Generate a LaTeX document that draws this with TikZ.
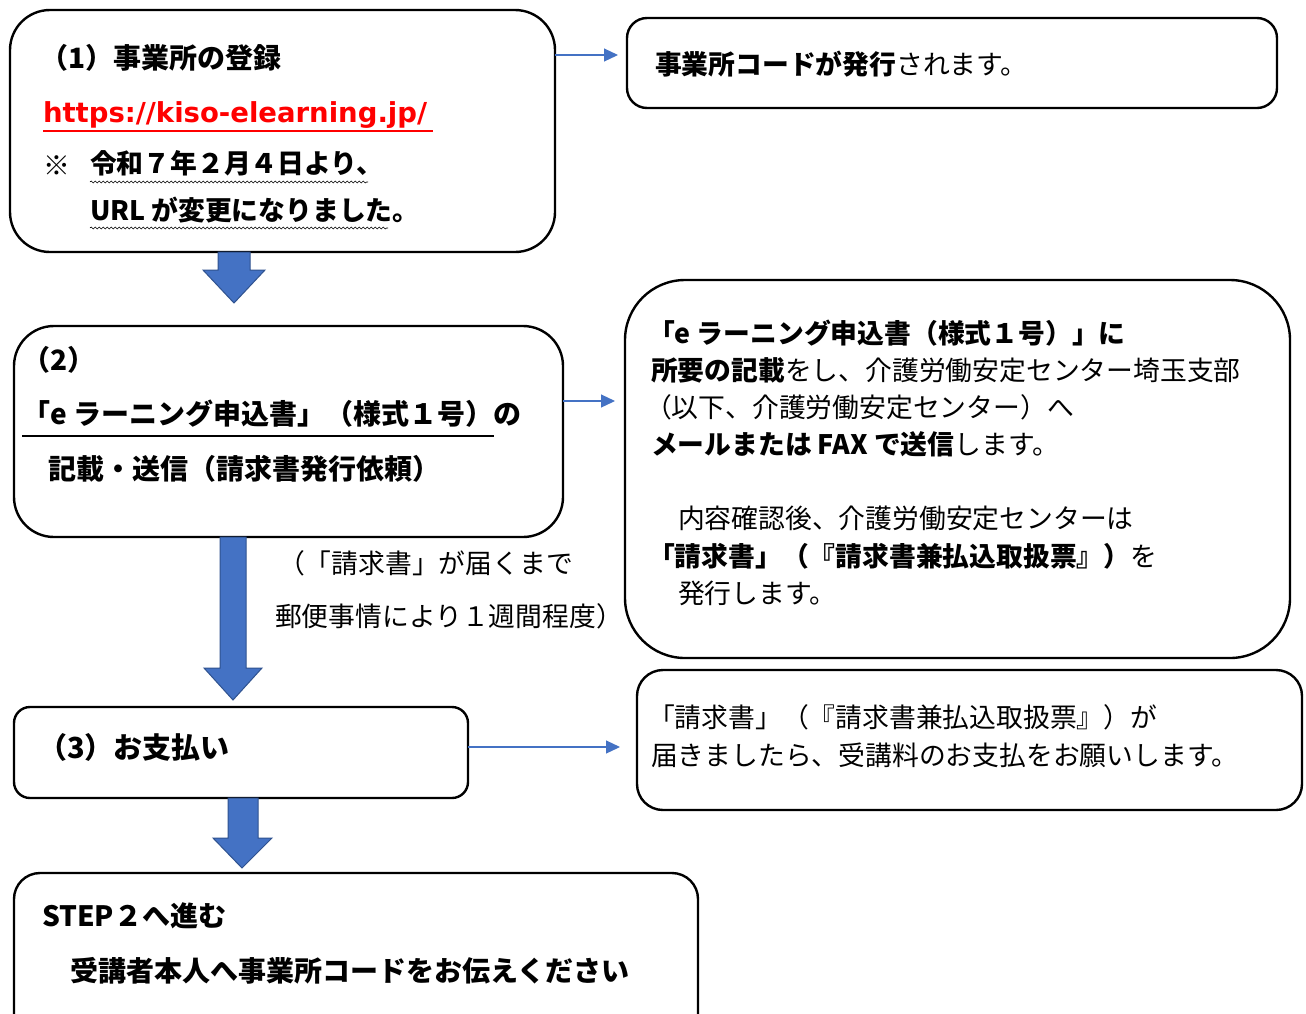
\documentclass[tikz,border=0pt]{standalone}
\usepackage{fontspec}
\setmainfont{Noto Sans CJK JP}
\newfontfamily\urlfont{DejaVu Sans}
\usetikzlibrary{arrows.meta,decorations.pathmorphing}
\definecolor{arrowblue}{HTML}{4472C4}
\definecolor{arrowedge}{HTML}{2F528F}
\definecolor{urlred}{HTML}{FF0000}
\begin{document}
\begin{tikzpicture}[x=1pt,y=-1pt,
  box/.style={draw=black, line width=2.4pt, fill=white, inner sep=0pt, outer sep=0pt},
  txt/.style={anchor=base west, inner sep=0pt, outer sep=0pt, font=\fontsize{26.8}{30}\selectfont},
  btxt/.style={txt, font=\fontsize{26.8}{30}\selectfont\bfseries},
  bigtxt/.style={txt, font=\fontsize{28}{32}\selectfont\bfseries},
  thinarrow/.style={draw=arrowblue, line width=1.2pt, -{Triangle[length=14pt,width=13pt]}},
  blockarrow/.style={fill=arrowblue, draw=arrowedge, line width=1pt},
  wavy/.style={draw=black, line width=0.6pt, decorate, decoration={snake, amplitude=1pt, segment length=4pt}}]
\useasboundingbox (0,0) rectangle (1306,1013);
\clip (0,0) rectangle (1306,1013);
\fill[white] (0,0) rectangle (1306,1013);

% boxes
\node[box, rounded corners=40pt, minimum width=545pt, minimum height=242pt] (b1) at (282.5,131) {};
\node[box, rounded corners=20pt, minimum width=650pt, minimum height=90pt] (r1) at (952,63) {};
\node[box, rounded corners=40pt, minimum width=549pt, minimum height=211pt] (b2) at (288.5,431.5) {};
\node[box, rounded corners=60pt, minimum width=665pt, minimum height=378pt] (r2) at (957.5,469) {};
\node[box, rounded corners=16pt, minimum width=454pt, minimum height=91pt] (b3) at (241,752.5) {};
\node[box, rounded corners=26pt, minimum width=665pt, minimum height=140pt] (r3) at (969.5,740) {};
\node[box, rounded corners=26pt, minimum width=684pt, minimum height=170pt] (b4) at (356,958) {};

% thin connectors
\coordinate (a1e) at (618,55);
\coordinate (a2e) at (615,401);
\coordinate (a3e) at (620,747);
\draw[thinarrow] (b1.east |- a1e) -- (a1e);
\draw[thinarrow] (b2.east |- a2e) -- (a2e);
\draw[thinarrow] (b3.east |- a3e) -- (a3e);

% block arrows
\draw[blockarrow] (218,252) -- (250,252) -- (250,270) -- (265,270) -- (234,303) -- (203,270) -- (218,270) -- cycle;
\draw[blockarrow] (220,537) -- (246,537) -- (246,668) -- (262,668) -- (233,700) -- (204,668) -- (220,668) -- cycle;
\draw[blockarrow] (228,798) -- (258,798) -- (258,838) -- (272,838) -- (242,868) -- (213,838) -- (228,838) -- cycle;

% box 1 text
\node[bigtxt] (t1a) at (40,68) {（1）事業所の登録};
\node[txt, text=urlred, font=\fontsize{27.5}{30}\selectfont\urlfont\bfseries] (url) at (43,122) {https://kiso-elearning.jp/};
\draw[urlred, line width=2pt] (43,131) -- (433,131);
\node[txt] (t1n) at (43,175) {※};
\node[btxt] (t1b) at (90,173) {令和７年２月４日より、};
\draw[wavy] (90,182) -- (368,182);
\node[btxt] (t1c) at (90,220) {URL が変更になりました。};
\draw[wavy] (90,228) -- (388,228);

% right box 1
\node[txt] (r1t) at (655,74) {\textbf{事業所コードが発行}されます。};

% box 2 text
\node[bigtxt] (t2a) at (22,370) {（2）};
\node[bigtxt] (t2b) at (22,424) {「e ラーニング申込書」（様式１号）の};
\draw[black, line width=2pt] (22,436) -- (494,436);
\node[bigtxt] (t2c) at (48,479) {記載・送信（請求書発行依頼）};

% side note
\node[txt] (s1) at (278,573) {（「請求書」が届くまで};
\node[txt] (s2) at (275,626) {郵便事情により１週間程度）};

% right box 2
\node[btxt] (r2a) at (648,343) {「e ラーニング申込書（様式１号）」に};
\node[txt] (r2b) at (651,380) {\textbf{所要の記載}をし、介護労働安定センター埼玉支部};
\node[txt] (r2c) at (645,417) {（以下、介護労働安定センター）へ};
\node[txt] (r2d) at (651,454) {\textbf{メールまたは FAX で送信}します。};
\node[txt] (r2e) at (678,528) {内容確認後、介護労働安定センターは};
\node[txt] (r2f) at (648,566) {\textbf{「請求書」（『請求書兼払込取扱票』）}を};
\node[txt] (r2g) at (678,603) {発行します。};

% box 3
\node[bigtxt, font=\fontsize{29}{32}\selectfont\bfseries] (t3) at (38,758) {（3）お支払い};

% right box 3
\node[txt] (r3a) at (648,727) {「請求書」（『請求書兼払込取扱票』）が};
\node[txt] (r3b) at (651,765) {届きましたら、受講料のお支払をお願いします。};

% box 4
\node[bigtxt] (t4a) at (42,926) {STEP２へ進む};
\node[bigtxt] (t4b) at (70,981) {受講者本人へ事業所コードをお伝えください};
\end{tikzpicture}
\end{document}
